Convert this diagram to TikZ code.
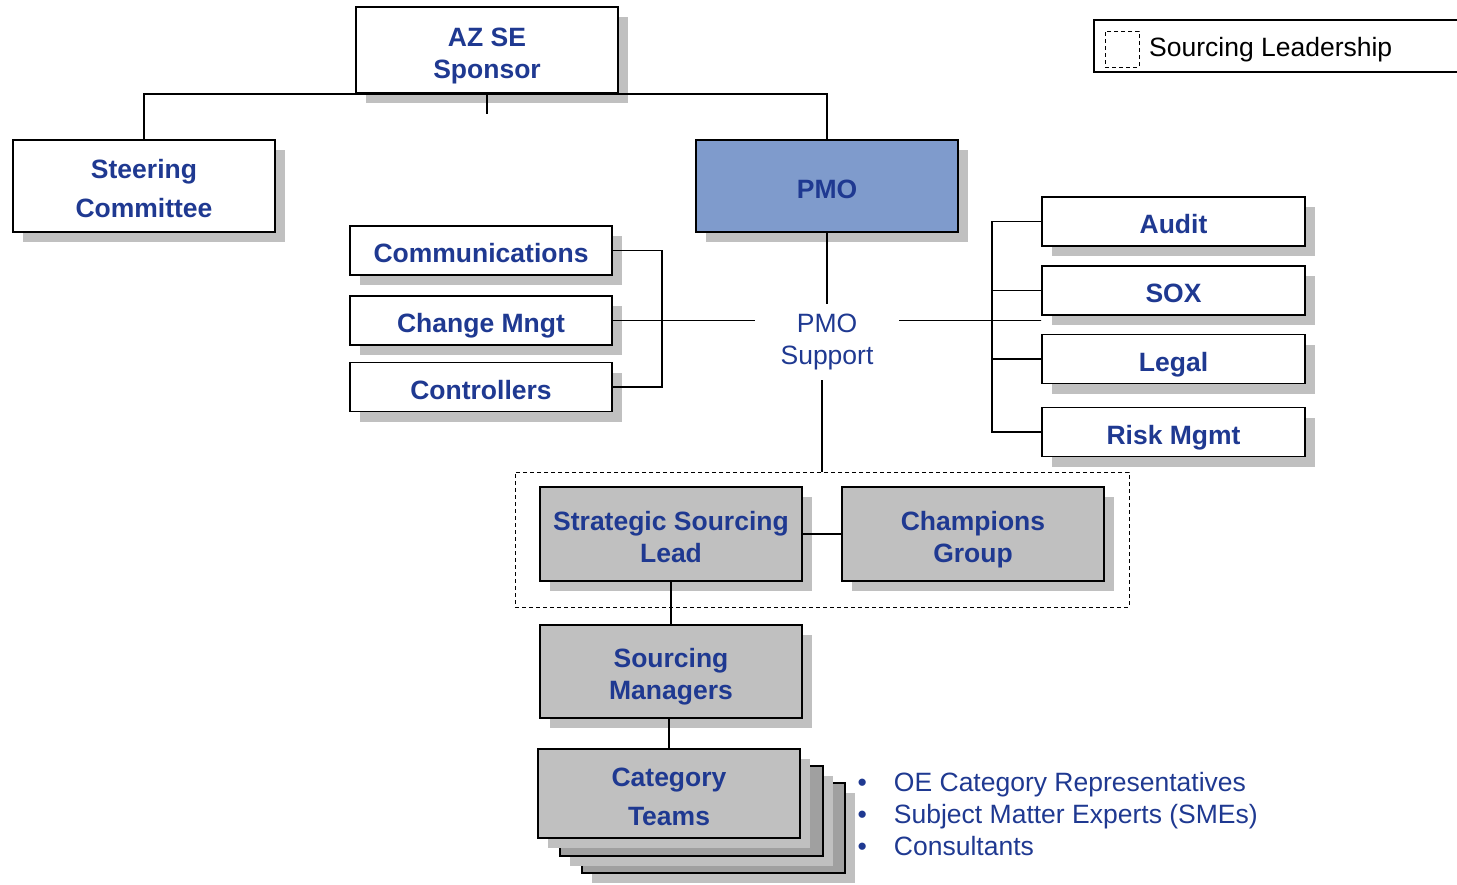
\documentclass[tikz,border=0pt]{standalone}
\usepackage{fontspec}
\setmainfont{Liberation Sans}
\usetikzlibrary{shadows}

\definecolor{bluscuro}{RGB}{31,57,145}
\definecolor{blupmo}{RGB}{127,155,204}
\definecolor{grigio}{RGB}{192,192,192}
\definecolor{grigioscuro}{RGB}{160,160,160}

% riga alta per centrare il testo come nell'originale
\newcommand{\su}{\rule{0pt}{34pt}}

\tikzset{
    linea/.style={line width=1.7pt},
    box/.style={draw, linea, fill=white, text=bluscuro, align=center, inner sep=0pt,
        font=\fontsize{26.5}{32}\selectfont\bfseries, minimum width=262pt,
        execute at begin node={\su},
        execute at end node={\rule[-10pt]{0pt}{10pt}},
        drop shadow={shadow xshift=10pt, shadow yshift=-10pt, fill=grigio, opacity=1}},
    grande/.style={box, minimum height=92pt},
    piccolo/.style={box, minimum height=49pt},
    testo/.style={text=bluscuro, inner sep=0pt, font=\fontsize{26.5}{32}\selectfont},
}

\begin{document}
\begin{tikzpicture}[x=1pt, y=-1pt]
    \useasboundingbox (0,0) rectangle (1457,884);

    % Vertice
    \node[box, minimum height=86pt] (sponsor) at (487,50) {\su AZ SE\\Sponsor};
    \node[grande] (steer) at (144,186) {\su Steering\\[7pt]Committee};
    \node[grande, fill=blupmo] (pmo) at (827,186) {PMO};

    % Supporto PMO
    \node[testo, minimum width=144pt, minimum height=76pt, align=center] (pmosup) at (827,342) {PMO\\Support};
    \node[piccolo] (comm) at (481,250.5) {Communications};
    \node[piccolo] (chg) at (481,320.5) {Change Mngt};
    \node[piccolo] (ctrl) at (481,387) {Controllers};
    \node[piccolo, minimum width=263pt] (audit) at (1173.5,221.5) {Audit};
    \node[piccolo, minimum width=263pt] (sox) at (1173.5,290.5) {SOX};
    \node[piccolo, minimum width=263pt] (legal) at (1173.5,359) {Legal};
    \node[piccolo, minimum width=263pt] (risk) at (1173.5,432) {Risk Mgmt};

    % Sourcing Leadership
    \node[draw, line width=1pt, dash pattern=on 4pt off 3pt, minimum width=614pt, minimum height=135pt] (leadgrp) at (822,539.5) {};
    \node[grande, fill=grigio, minimum height=94pt] (ssl) at (671,534) {\su Strategic Sourcing\\Lead};
    \node[grande, fill=grigio, minimum height=94pt] (champ) at (973,534) {\su Champions\\Group};
    \node[grande, fill=grigio, minimum height=93pt] (mgrs) at (671,671.5) {\su Sourcing\\Managers};

    % Team di categoria (pila)
    \node[box, fill=grigioscuro, minimum width=263pt, minimum height=90pt] (teamsC) at (713.5,828) {};
    \node[box, fill=grigioscuro, minimum width=263pt, minimum height=90pt] (teamsB) at (691.5,811) {};
    \node[grande, fill=grigio, minimum height=89pt] (teams) at (669,793.5) {\su Category\\[7pt]Teams};
    \node[testo, anchor=west, align=left] (elenco) at (857.5,814) {\textbullet\hspace{27pt}OE Category Representatives\\
        \textbullet\hspace{27pt}Subject Matter Experts (SMEs)\\
        \textbullet\hspace{27pt}Consultants};

    % Legenda
    \draw[line width=1.3pt] (1457,20) -| (1094,72) -- (1457,72);
    \node[draw, line width=1pt, dash pattern=on 4pt off 3pt, minimum width=34pt, minimum height=36pt] (legquad) at (1122,49) {};
    \node[testo, text=black, anchor=west] (legtesto) at (1149,50) {Sourcing Leadership};

    % Collegamenti
    \draw[linea] (steer.north) -- (steer.north |- sponsor.south) -- (pmo.north |- sponsor.south) -- (pmo.north);
    \draw[linea] (sponsor.south) -- ++(0,20);
    \draw[linea] (pmo.south) -- (pmosup.north);
    \draw[linea] (comm.east) -- ++(49,0) |- (ctrl.east);
    \draw[linea] (chg.east) -- (chg.east -| pmosup.west);
    \draw[linea] (audit.west) -- ++(-49,0) |- (risk.west);
    \draw[linea] (sox.west) -- ++(-49,0);
    \draw[linea] (legal.west) -- ++(-49,0);
    \draw[linea] (chg.east -| pmosup.east) -- (chg.east -| risk.west) -- ++(-49,0);
    \draw[linea] (leadgrp.north |- pmosup.south) -- (leadgrp.north);
    \draw[linea] (ssl.east) -- (champ.west);
    \draw[linea] (ssl.south) -- (mgrs.north);
    \draw[linea] (teams.north |- mgrs.south) -- (teams.north);
\end{tikzpicture}
\end{document}
